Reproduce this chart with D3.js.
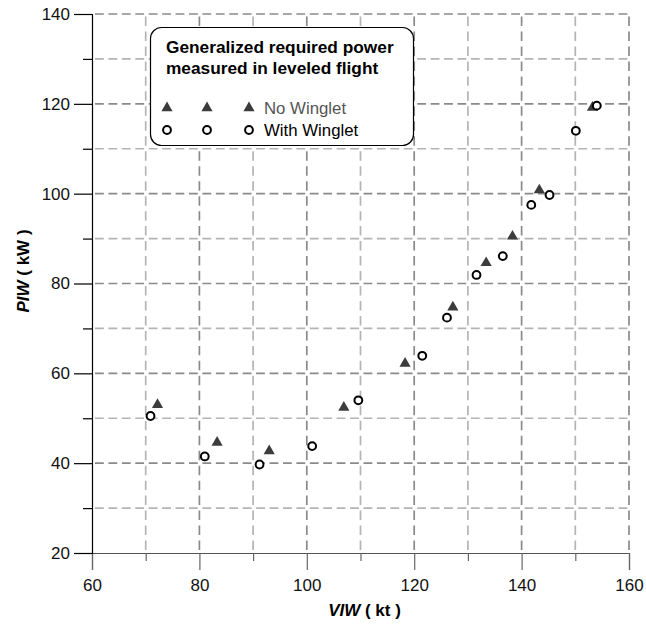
<!DOCTYPE html>
<html>
<head>
<meta charset="utf-8">
<script src="https://cdn.jsdelivr.net/npm/d3@7"></script>
<style>
  body { margin: 0; background: #fff; }
  svg text { font-family: "Liberation Sans", Arial, sans-serif; }
</style>
</head>
<body>
<div id="chart"></div>
<script>
// data
var noWingletV = [72.2, 83.3, 93.0, 106.9, 118.3, 127.2, 133.4, 138.3, 143.3, 153.2]
var noWingletP = [53.0, 44.6, 42.7, 52.4, 62.2, 74.7, 84.6, 90.5, 100.8, 119.2]
var withWingletV = [70.9, 81.0, 91.2, 101.0, 109.6, 121.5, 126.1, 131.6, 136.5, 141.8, 145.2, 150.1, 154.0]
var withWingletP = [50.5, 41.5, 39.7, 43.8, 54.0, 63.9, 72.4, 81.9, 86.1, 97.5, 99.7, 114.0, 119.6]
var xTicks = [60, 70, 80, 90, 100, 110, 120, 130, 140, 150, 160]
var yTicks = [20, 30, 40, 50, 60, 70, 80, 90, 100, 110, 120, 130, 140]
var legendTitle = ["Generalized required power", "measured in leveled flight"]
var seriesNames = ["No Winglet", "With Winglet"]

;(function() {
  var margin = {top: 14, right: 17, bottom: 74, left: 92},
      width = 646 - margin.left - margin.right,
      height = 627 - margin.top - margin.bottom

  var svg = d3.select("#chart")
        .append("svg")
        .attr("width", 646)
        .attr("height", 627)
        .append("g")
        .attr("transform", "translate(" + margin.left + "," + margin.top + ")")

  var x = d3.scaleLinear().domain([60, 160]).range([0, width])
  var y = d3.scaleLinear().domain([20, 140]).range([height, 0])

  function isMajor(v) { return v % 20 === 0 }

  // dashed grid, dashes start at each crossing
  var cellW = x(70) - x(60)
  var cellH = y(20) - y(30)

  svg.append("g").attr("class", "grid-h")
    .selectAll("line")
    .data(yTicks.slice(1))
    .enter().append("line")
    .attr("x1", 0).attr("x2", width)
    .attr("y1", function(d) { return y(d) })
    .attr("y2", function(d) { return y(d) })
    .attr("stroke", function(d) { return isMajor(d) ? "#8a8a8a" : "#b4b4b4" })
    .attr("stroke-width", 1.7)
    .attr("stroke-dasharray", (cellW / 4 - 4.6) + "," + 4.6)
    .attr("stroke-dashoffset", -3)

  svg.append("g").attr("class", "grid-v")
    .selectAll("line")
    .data(xTicks.slice(1))
    .enter().append("line")
    .attr("x1", function(d) { return x(d) })
    .attr("x2", function(d) { return x(d) })
    .attr("y1", height).attr("y2", 0)
    .attr("stroke", function(d) { return isMajor(d) ? "#8a8a8a" : "#b4b4b4" })
    .attr("stroke-width", 1.7)
    .attr("stroke-dasharray", (cellH / 3 - 5.5) + "," + 5.5)
    .attr("stroke-dashoffset", -3)

  // axes
  var xAxis = d3.axisBottom(x)
    .tickValues(xTicks)
    .tickSize(17)
    .tickPadding(9)
    .tickFormat(function(d) { return isMajor(d) ? d : "" })

  var gx = svg.append("g")
    .attr("class", "axis x-axis")
    .attr("transform", "translate(0," + height + ")")
    .call(xAxis)
  gx.select(".domain").attr("stroke", "#555").attr("stroke-width", 1.2)
  gx.selectAll(".tick line")
    .attr("stroke", "#666")
    .attr("stroke-width", 1.2)
    .attr("y2", function(d) { return isMajor(d) ? 17 : 8 })
  gx.selectAll(".tick text")
    .attr("font-size", 17)
    .attr("fill", "#111")

  var yAxis = d3.axisLeft(y)
    .tickValues(yTicks)
    .tickSize(18)
    .tickPadding(4)
    .tickFormat(function(d) { return isMajor(d) ? d : "" })

  var gy = svg.append("g")
    .attr("class", "axis y-axis")
    .call(yAxis)
  gy.select(".domain").attr("stroke", "#000").attr("stroke-width", 1.2)
  gy.selectAll(".tick line")
    .attr("stroke", "#000")
    .attr("stroke-width", 1.2)
    .attr("x2", function(d) { return isMajor(d) ? -18 : -9 })
  gy.selectAll(".tick text")
    .attr("font-size", 17)
    .attr("fill", "#111")

  // axis titles
  var xt = svg.append("text")
    .attr("x", width / 2 + 4)
    .attr("y", height + 63)
    .attr("text-anchor", "middle")
    .attr("font-size", 17)
    .attr("font-weight", "bold")
  xt.append("tspan").attr("font-style", "italic").text("VIW")
  xt.append("tspan").text(" ( kt )")

  var yt = svg.append("text")
    .attr("transform", "translate(" + (29 - margin.left) + "," + (271 - margin.top) + ") rotate(-90)")
    .attr("text-anchor", "middle")
    .attr("font-size", 17)
    .attr("font-weight", "bold")
  yt.append("tspan").attr("font-style", "italic").text("PIW")
  yt.append("tspan").text(" ( kW )")

  // points
  var tri = d3.symbol().type(d3.symbolTriangle).size(54)

  svg.append("g").selectAll("path")
    .data(d3.zip(noWingletV, noWingletP))
    .enter().append("path")
    .attr("d", tri)
    .attr("transform", function(d) { return "translate(" + x(d[0]) + "," + y(d[1]) + ")" })
    .attr("fill", "#3c3c3c")

  svg.append("g").selectAll("circle")
    .data(d3.zip(withWingletV, withWingletP))
    .enter().append("circle")
    .attr("cx", function(d) { return x(d[0]) })
    .attr("cy", function(d) { return y(d[1]) })
    .attr("r", 3.9)
    .attr("fill", "#fff")
    .attr("stroke", "#000")
    .attr("stroke-width", 2)

  // legend box
  var legend = svg.append("g")
    .attr("transform", "translate(" + (150 - margin.left) + "," + (27 - margin.top) + ")")

  legend.append("rect")
    .attr("x", 0.5).attr("y", 0.5)
    .attr("width", 263).attr("height", 118)
    .attr("rx", 11).attr("ry", 11)
    .attr("fill", "#fff")
    .attr("stroke", "#000")
    .attr("stroke-width", 1.2)

  legend.selectAll(".ltitle")
    .data(legendTitle)
    .enter().append("text")
    .attr("class", "ltitle")
    .attr("x", 16)
    .attr("y", function(d, i) { return 26 + i * 21 })
    .attr("font-size", 17.3)
    .attr("font-weight", "bold")
    .text(function(d) { return d })

  var symX = [17, 57, 99]
  var rowY = [81, 103]

  symX.forEach(function(sx) {
    legend.append("path")
      .attr("d", tri)
      .attr("transform", "translate(" + sx + "," + rowY[0] + ")")
      .attr("fill", "#3c3c3c")
    legend.append("circle")
      .attr("cx", sx).attr("cy", rowY[1])
      .attr("r", 3.9)
      .attr("fill", "#fff")
      .attr("stroke", "#000")
      .attr("stroke-width", 2)
  })

  legend.selectAll(".lname")
    .data(seriesNames)
    .enter().append("text")
    .attr("class", "lname")
    .attr("x", 114)
    .attr("y", function(d, i) { return rowY[i] + 6 })
    .attr("font-size", 16.8)
    .attr("fill", function(d, i) { return i === 0 ? "#555" : "#000" })
    .text(function(d) { return d })
})();
</script>
</body>
</html>
